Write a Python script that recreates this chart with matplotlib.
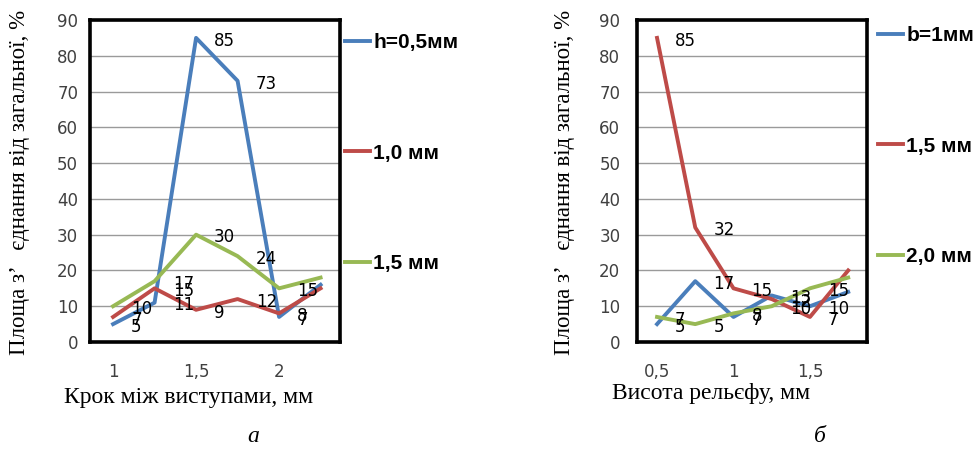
import matplotlib.pyplot as plt

# chart a: step between protrusions
step_mm = [1, 1.25, 1.5, 1.75, 2, 2.25]
h05 = [5, 11, 85, 73, 7, 16]
h10 = [7, 15, 9, 12, 8, 15]
h15 = [10, 17, 30, 24, 15, 18]
labels_a = ["h=0,5мм", "1,0 мм", "1,5 мм"]

# chart b: relief height
height_mm = [0.5, 0.75, 1, 1.25, 1.5, 1.75]
b10 = [5, 17, 7, 13, 10, 14]
b15 = [85, 32, 15, 12, 7, 20]
b20 = [7, 5, 8, 10, 15, 18]
labels_b = ["b=1мм", "1,5 мм", "2,0 мм"]

colors = ["#4A7EBB", "#BE4B48", "#98B954"]
ylab = "Площа з’   єднання від загальної, %"

fig = plt.figure(figsize=(9.79, 4.5), dpi=100)


def panel(rect, x, series, names, xlim, xticks, xtl, ypad, leg_xy):
    ax = fig.add_axes(rect)
    for ys, c, n in zip(series, colors, names):
        ax.plot(x, ys, color=c, lw=2.8, label=n, zorder=3)
        for xi, yi in zip(x[:-1], ys[:-1]):
            ax.annotate(str(yi), (xi, yi), xytext=(13, -2), textcoords="offset points",
                        ha="left", va="center", fontsize=12, color="black", zorder=4)
    ax.set_xlim(*xlim)
    ax.set_ylim(0, 90)
    ax.set_yticks(range(0, 91, 10))
    ax.set_xticks(xticks)
    ax.set_xticklabels(xtl)
    ax.grid(axis="y", color="#9a9a9a", lw=1)
    ax.set_axisbelow(True)
    for s in ax.spines.values():
        s.set_linewidth(2.6)
        s.set_color("black")
    ax.tick_params(axis="y", length=0, pad=ypad, labelsize=12, labelcolor="#404040")
    ax.tick_params(axis="x", length=0, pad=15, labelsize=12, labelcolor="#404040")
    ax.legend(loc="upper left", bbox_to_anchor=leg_xy, bbox_transform=fig.transFigure,
              frameon=False, handlelength=1.2, handletextpad=0.15, labelspacing=4.4,
              borderpad=0, borderaxespad=0,
              prop={"family": "Liberation Sans", "weight": "bold", "size": 15})
    return ax


panel([90 / 979, 1 - 342 / 450, 250 / 979, 322 / 450], step_mm, [h05, h10, h15], labels_a,
      (0.861, 2.367), [1, 1.5, 2], ["1", "1,5", "2"], 8.5, (345 / 979, 1 - 33 / 450))
panel([637 / 979, 1 - 342 / 450, 230 / 979, 322 / 450], height_mm, [b10, b15, b20], labels_b,
      (0.369, 1.873), [0.5, 1, 1.5], ["0,5", "1", "1,5"], 12, (878 / 979, 1 - 26 / 450))

ys = {"family": "Liberation Serif", "size": 16.5}
xs = {"family": "Liberation Serif", "size": 17}
fig.text(20 / 979, 1 - 182 / 450, ylab, rotation=90, ha="center", va="center", fontdict=ys)
fig.text(565 / 979, 1 - 182 / 450, ylab, rotation=90, ha="center", va="center", fontdict=ys)
fig.text(189 / 979, 1 - 397 / 450, "Крок між виступами, мм", ha="center", va="center", fontdict=xs)
fig.text(711 / 979, 1 - 393 / 450, "Висота рельєфу, мм", ha="center", va="center", fontdict=xs)
fig.text(253 / 979, 1 - 437 / 450, "а", ha="center", va="center", style="italic", fontdict=xs)
fig.text(820 / 979, 1 - 437 / 450, "б", ha="center", va="center", style="italic", fontdict=xs)

fig.savefig("out.png", dpi=100)
